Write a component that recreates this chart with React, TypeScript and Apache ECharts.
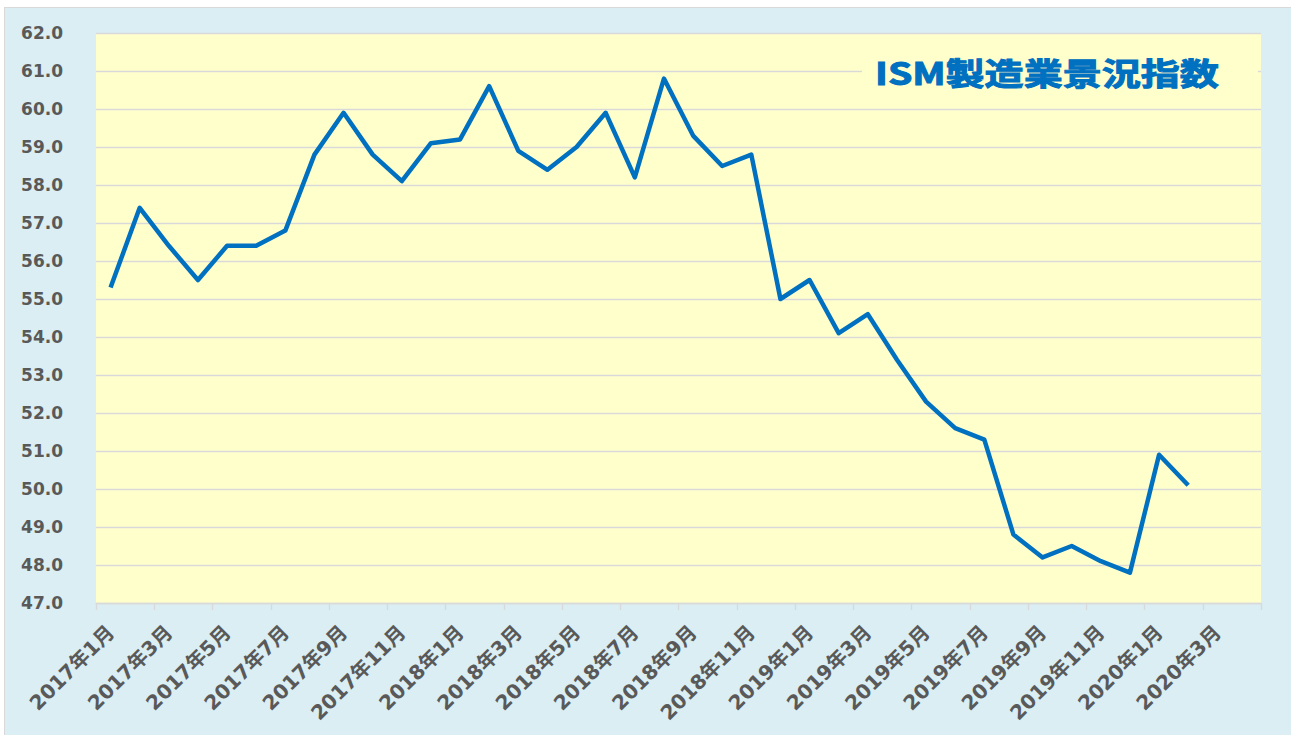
import React, { useEffect, useRef } from "react";
import * as echarts from "echarts";

const categories = [
  "2017年1月", "2017年2月", "2017年3月", "2017年4月", "2017年5月", "2017年6月",
  "2017年7月", "2017年8月", "2017年9月", "2017年10月", "2017年11月", "2017年12月",
  "2018年1月", "2018年2月", "2018年3月", "2018年4月", "2018年5月", "2018年6月",
  "2018年7月", "2018年8月", "2018年9月", "2018年10月", "2018年11月", "2018年12月",
  "2019年1月", "2019年2月", "2019年3月", "2019年4月", "2019年5月", "2019年6月",
  "2019年7月", "2019年8月", "2019年9月", "2019年10月", "2019年11月", "2019年12月",
  "2020年1月", "2020年2月", "2020年3月", "2020年4月",
];

const ismValues: (number | null)[] = [
  55.3, 57.4, 56.4, 55.5, 56.4, 56.4, 56.8, 58.8, 59.9, 58.8, 58.1, 59.1,
  59.2, 60.6, 58.9, 58.4, 59.0, 59.9, 58.2, 60.8, 59.3, 58.5, 58.8, 55.0,
  55.5, 54.1, 54.6, 53.4, 52.3, 51.6, 51.3, 48.8, 48.2, 48.5, 48.1, 47.8,
  50.9, 50.1, null, null,
];

const yMin = 47;
const yMax = 62;
const yStep = 1;
const titleText = "ISM製造業景況指数";

export default function App() {
  const ref = useRef<HTMLDivElement>(null);

  useEffect(() => {
    if (!ref.current) return;
    const chart = echarts.init(ref.current, undefined, { renderer: "svg" });
    const labelFont = "'DejaVu Sans', 'Noto Sans CJK JP', sans-serif";
    chart.setOption({
      animation: false,
      backgroundColor: "transparent",
      grid: {
        left: 96,
        top: 33,
        right: 30,
        bottom: 132,
        show: true,
        backgroundColor: "#ffffcc",
        borderWidth: 0,
      },
      xAxis: {
        type: "category",
        data: categories,
        boundaryGap: true,
        axisLine: { show: true, lineStyle: { color: "#d9d9d9", width: 1.3 } },
        axisTick: {
          show: true,
          interval: 1,
          length: 7,
          alignWithLabel: false,
          lineStyle: { color: "#d9d9d9", width: 1.3 },
        },
        axisLabel: {
          interval: 1,
          rotate: 45,
          margin: 26,
          color: "#595959",
          fontWeight: "bold",
          fontSize: 20,
          fontFamily: labelFont,
        },
        splitLine: { show: false },
      },
      yAxis: {
        type: "value",
        min: yMin,
        max: yMax,
        interval: yStep,
        axisLine: { show: false },
        axisTick: { show: false },
        axisLabel: {
          margin: 33,
          color: "#595959",
          fontWeight: "bold",
          fontSize: 17,
          fontFamily: labelFont,
          formatter: (v: number) => v.toFixed(1),
        },
        splitLine: { show: true, lineStyle: { color: "#d9d9d9", width: 1.3 } },
      },
      graphic: [
        {
          type: "rect",
          z: 10,
          shape: { x: 862, y: 42, width: 396, height: 58 },
          style: { fill: "#ffffcc" },
        },
        {
          type: "text",
          z: 11,
          x: 875,
          y: 71,
          scaleX: 1.26,
          scaleY: 1,
          style: {
            text: titleText,
            x: 0,
            y: 0,
            fill: "#0070c0",
            stroke: "#0070c0",
            lineWidth: 1,
            fontSize: 31,
            fontWeight: "bold",
            fontFamily: "'Noto Sans CJK JP', sans-serif",
            textAlign: "left",
            textVerticalAlign: "middle",
          },
        },
      ],
      series: [
        {
          type: "line",
          data: ismValues,
          symbol: "none",
          lineStyle: { color: "#0070c0", width: 4.5, join: "round" },
          itemStyle: { color: "#0070c0" },
        },
      ],
    });
    return () => chart.dispose();
  }, []);

  return (
    <div
      style={{
        position: "fixed",
        left: 0,
        top: 0,
        width: 1291,
        height: 735,
        background: "#ffffff",
        overflow: "hidden",
      }}
    >
      <div
        style={{
          position: "absolute",
          left: 4,
          top: 7,
          width: 1300,
          height: 740,
          background: "#daeef3",
          border: "1px solid #d9d9d9",
        }}
      />
      <div
        ref={ref}
        style={{ position: "absolute", left: 0, top: 0, width: 1291, height: 735 }}
      />
    </div>
  );
}
